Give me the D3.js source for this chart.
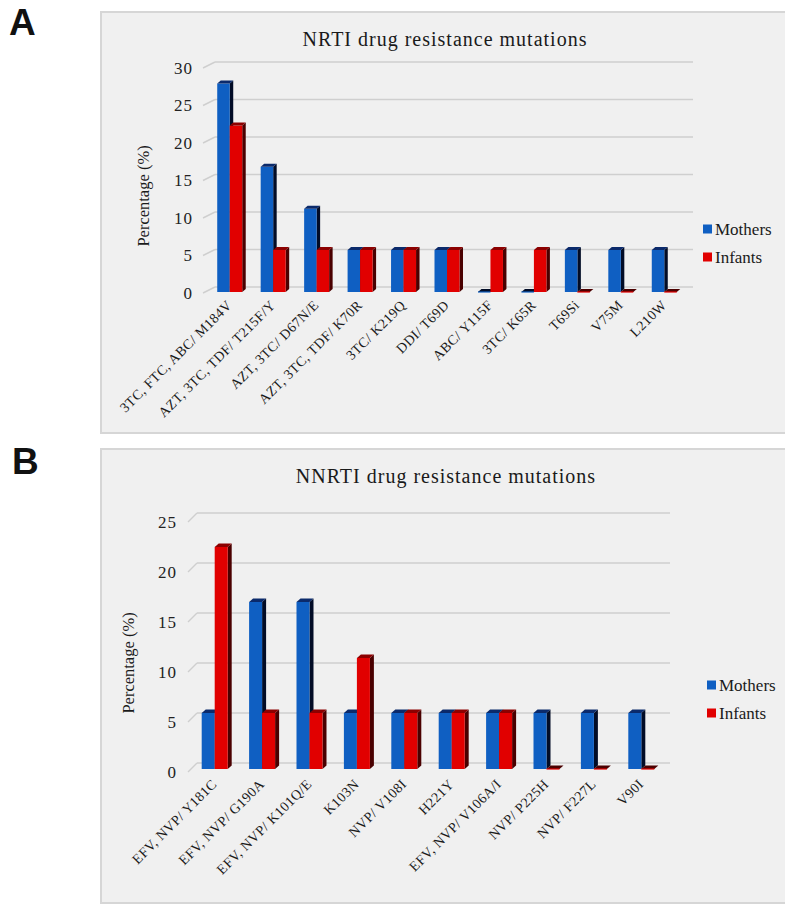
<!DOCTYPE html>
<html>
<head>
<meta charset="utf-8">
<script src="https://cdn.jsdelivr.net/npm/d3@7"></script>
<style>
  body { margin: 0; background: #fff; }
</style>
</head>
<body>
<svg id="fig" width="785" height="905"></svg>
<script>
// panel A: NRTI mutations (% of mothers / infants)
var nrtiMutations = [
  "3TC, FTC, ABC/ M184V", "AZT, 3TC, TDF/ T215F/Y", "AZT, 3TC/ D67N/E",
  "AZT, 3TC, TDF/ K70R", "3TC/ K219Q", "DDI/ T69D", "ABC/ Y115F",
  "3TC/ K65R", "T69Si", "V75M", "L210W"
];
var nrtiMothers = [27.8, 16.7, 11.1, 5.6, 5.6, 5.6, 0, 0, 5.6, 5.6, 5.6];
var nrtiInfants = [22.2, 5.6, 5.6, 5.6, 5.6, 5.6, 5.6, 5.6, 0, 0, 0];
var nrtiTicks = [0, 5, 10, 15, 20, 25, 30];

// panel B: NNRTI mutations
var nnrtiMutations = [
  "EFV, NVP/ Y181C", "EFV, NVP/ G190A", "EFV, NVP/ K101Q/E", "K103N",
  "NVP/ V108I", "H221Y", "EFV, NVP/ V106A/I", "NVP/ P225H", "NVP/ F227L", "V90I"
];
var nnrtiMothers = [5.6, 16.7, 16.7, 5.6, 5.6, 5.6, 5.6, 5.6, 5.6, 5.6];
var nnrtiInfants = [22.2, 5.6, 5.6, 11.1, 5.6, 5.6, 5.6, 0, 0, 0];
var nnrtiTicks = [0, 5, 10, 15, 20, 25];

var seriesNames = ["Mothers", "Infants"];

var serif = "'Liberation Serif', 'Times New Roman', serif";

// front / side / top colours for the fake 3d bars
var barColors = [
  { front: "#0f5fc2", side: "#020c26", top: "#0b2a6b" },
  { front: "#e10000", side: "#4a0000", top: "#8c0000" }
];

var svg = d3.select("#fig");

function drawPanel(p) {
  var g = svg.append("g");

  // panel background box
  g.append("rect")
    .attr("x", p.box[0]).attr("y", p.box[1])
    .attr("width", p.box[2]).attr("height", p.box[3])
    .attr("fill", "#f0f0f0")
    .attr("stroke", "#d6d6d6")
    .attr("stroke-width", 2);

  // panel letter
  svg.append("text")
    .attr("x", p.letterPos[0]).attr("y", p.letterPos[1])
    .style("font-family", "'Liberation Sans', Arial, sans-serif")
    .style("font-weight", "bold")
    .style("font-size", "37px")
    .style("fill", "#111")
    .text(p.letter);

  g.append("text")
    .attr("x", p.titlePos[0]).attr("y", p.titlePos[1])
    .attr("text-anchor", "middle")
    .style("font-family", serif)
    .style("font-size", "20px")
    .style("letter-spacing", "1px")
    .style("fill", "#1a1a1a")
    .text(p.title);

  var y = d3.scaleLinear().domain([0, p.yMax]).range(p.yRange);
  var x = d3.scaleBand().domain(p.cats).range(p.xRange);

  // back wall gridlines
  g.selectAll(".grid")
    .data(p.ticks)
    .enter().append("line")
    .attr("x1", p.gridX[0]).attr("x2", p.gridX[1])
    .attr("y1", d => y(d) - p.depth[1])
    .attr("y2", d => y(d) - p.depth[1])
    .attr("stroke", "#cfcfcf")
    .attr("stroke-width", 1.5);

  // diagonal ticks on the left wall
  g.selectAll(".dtick")
    .data(p.ticks)
    .enter().append("line")
    .attr("x1", p.gridX[0] - p.depth[0]).attr("x2", p.gridX[0])
    .attr("y1", d => y(d) + p.tickDy)
    .attr("y2", d => y(d) - p.depth[1])
    .attr("stroke", "#cfcfcf")
    .attr("stroke-width", 1.5);

  // y tick labels
  var yAxis = d3.axisLeft(y).tickValues(p.ticks).tickSize(0).tickPadding(0);
  var ax = g.append("g")
    .attr("transform", "translate(" + p.tickX + "," + p.tickDy + ")")
    .call(yAxis);
  ax.select(".domain").remove();
  ax.selectAll("text")
    .style("font-family", serif)
    .style("font-size", "17px")
    .style("letter-spacing", "1px")
    .style("fill", "#222");

  g.append("text")
    .attr("transform", "translate(" + p.yTitlePos[0] + "," + p.yTitlePos[1] + ") rotate(-90)")
    .attr("text-anchor", "middle")
    .style("font-family", serif)
    .style("font-size", "16.5px")
    .style("fill", "#1a1a1a")
    .text("Percentage (%)");

  // bars, mothers then infants so the red covers the blue side
  var bw = p.barW, dx = p.barDepth[0], dy = p.barDepth[1];
  var base = y(0);
  p.cats.forEach(function(c, i) {
    var cx = x(c) + x.bandwidth() / 2;
    [p.mothers[i], p.infants[i]].forEach(function(v, s) {
      var x0 = s === 0 ? cx - bw : cx;
      var x1 = x0 + bw;
      var top = y(v);
      var col = barColors[s];
      var bar = g.append("g");
      if (v > 0) {
        bar.append("polygon")
          .attr("points", [[x1, top], [x1 + dx, top - dy], [x1 + dx, base - dy], [x1, base]].join(" "))
          .attr("fill", col.side);
        bar.append("rect")
          .attr("x", x0).attr("y", top)
          .attr("width", bw).attr("height", base - top)
          .attr("fill", col.front);
      }
      bar.append("polygon")
        .attr("points", [[x0, top], [x0 + dx, top - dy], [x1 + dx, top - dy], [x1, top]].join(" "))
        .attr("fill", v > 0 ? col.top : col.side);
      if (v === 0) {
        bar.append("line")
          .attr("x1", x0).attr("x2", x1)
          .attr("y1", base).attr("y2", base)
          .attr("stroke", col.front).attr("stroke-width", 1.2);
      }
    });

    // rotated category label
    g.append("text")
      .attr("transform", "translate(" + (cx + p.labelOff[0]) + "," + (base + p.labelOff[1]) + ") rotate(-45)")
      .attr("text-anchor", "end")
      .style("font-family", serif)
      .style("font-size", "14px")
      .style("letter-spacing", "0.4px")
      .style("fill", "#1a1a1a")
      .text(c);
  });

  // legend
  var leg = g.append("g");
  seriesNames.forEach(function(name, s) {
    var ly = p.legendPos[1] + s * p.legendGap;
    leg.append("rect")
      .attr("x", p.legendPos[0]).attr("y", ly - 4.5)
      .attr("width", 9).attr("height", 9)
      .attr("fill", barColors[s].front);
    leg.append("text")
      .attr("x", p.legendPos[0] + 12).attr("y", ly)
      .attr("dy", "0.35em")
      .style("font-family", serif)
      .style("font-size", "17px")
      .style("fill", "#1a1a1a")
      .text(name);
  });
}

drawPanel({
  letter: "A", letterPos: [9, 35],
  box: [101, 12, 720, 421],
  title: "NRTI drug resistance mutations", titlePos: [445, 46],
  cats: nrtiMutations, mothers: nrtiMothers, infants: nrtiInfants,
  ticks: nrtiTicks, yMax: 30, yRange: [292, 67],
  xRange: [208, 686], gridX: [215, 693], depth: [12, 5], tickDy: 1,
  tickX: 193, yTitlePos: [149, 196],
  barW: 12.5, barDepth: [3.5, 3],
  labelOff: [3, 14],
  legendPos: [703, 229], legendGap: 28
});

drawPanel({
  letter: "B", letterPos: [12, 474],
  box: [101, 449, 720, 454],
  title: "NNRTI drug resistance mutations", titlePos: [446, 483],
  cats: nnrtiMutations, mothers: nnrtiMothers, infants: nnrtiInfants,
  ticks: nnrtiTicks, yMax: 25, yRange: [769, 519],
  xRange: [191, 665], gridX: [197, 670], depth: [9, 6], tickDy: 3,
  tickX: 177, yTitlePos: [134, 663],
  barW: 13, barDepth: [4, 3.5],
  labelOff: [3, 16],
  legendPos: [707, 685], legendGap: 28
});
</script>
</body>
</html>
